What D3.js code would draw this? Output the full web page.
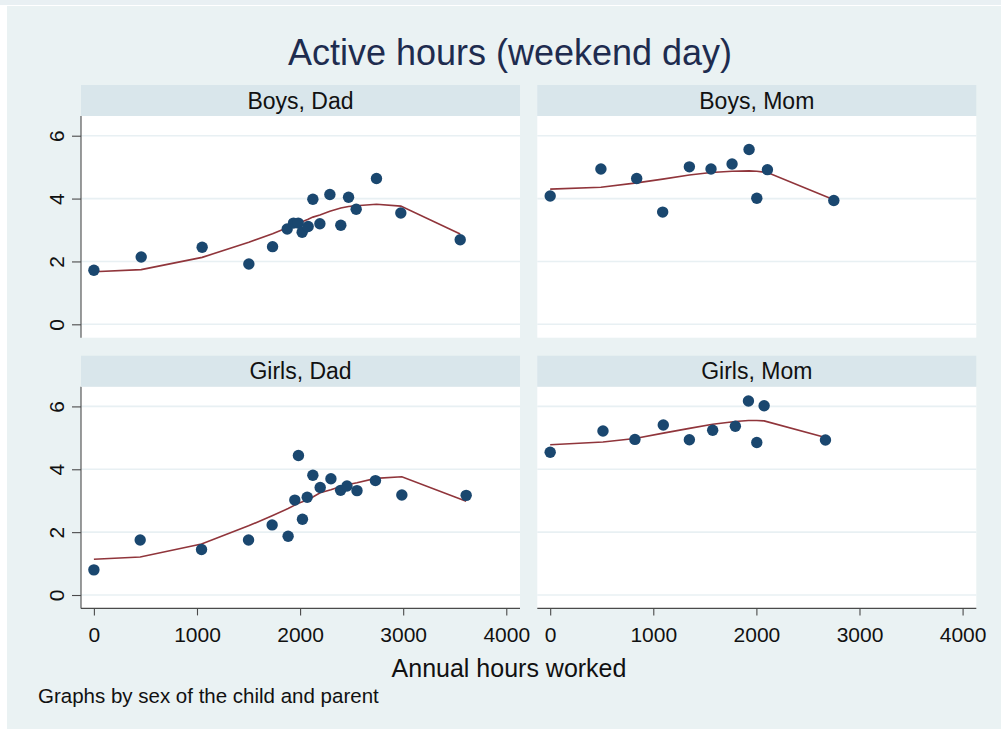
<!DOCTYPE html>
<html>
<head>
<meta charset="utf-8">
<script src="https://cdn.jsdelivr.net/npm/d3@7"></script>
<style>
  html, body { margin: 0; padding: 0; background: #ffffff; }
  svg { display: block; font-family: "Liberation Sans", Arial, sans-serif; }
</style>
</head>
<body>
<svg id="chart" width="1001" height="729"></svg>
<script>
// ---------------- data ----------------
const panelTitles = ["Boys, Dad", "Boys, Mom", "Girls, Dad", "Girls, Mom"];
const xTicks = [0, 1000, 2000, 3000, 4000];
const yTicks = [0, 2, 4, 6];
const chartTitle = "Active hours (weekend day)";
const xAxisTitle = "Annual hours worked";
const noteText = "Graphs by sex of the child and parent";

const boysDadHours  = [0, 459, 1050, 1503, 1733, 1875, 1936, 1982, 2020, 2078, 2124, 2192, 2289, 2395, 2470, 2544, 2741, 2977, 3553];
const boysDadActive = [1.72, 2.14, 2.45, 1.92, 2.47, 3.03, 3.22, 3.22, 2.93, 3.11, 3.98, 3.20, 4.13, 3.15, 4.04, 3.66, 4.64, 3.54, 2.69];
const boysDadFit    = [1.67, 1.74, 2.13, 2.61, 2.88, 3.07, 3.15, 3.22, 3.26, 3.34, 3.41, 3.48, 3.60, 3.70, 3.75, 3.77, 3.82, 3.76, 2.87];

const boysMomHours  = [0, 492, 839, 1091, 1350, 1560, 1764, 1929, 2004, 2107, 2751];
const boysMomActive = [4.08, 4.94, 4.64, 3.57, 5.01, 4.94, 5.10, 5.56, 4.01, 4.92, 3.94];
const boysMomFit    = [4.30, 4.36, 4.50, 4.62, 4.75, 4.83, 4.87, 4.88, 4.87, 4.83, 3.96];

const girlsDadHours  = [0, 449, 1044, 1500, 1729, 1884, 1949, 1984, 2023, 2069, 2124, 2195, 2299, 2393, 2455, 2552, 2731, 2987, 3611];
const girlsDadActive = [0.80, 1.75, 1.45, 1.75, 2.23, 1.87, 3.02, 4.44, 2.41, 3.11, 3.81, 3.42, 3.70, 3.33, 3.47, 3.32, 3.64, 3.18, 3.17];
const girlsDadFit    = [1.14, 1.21, 1.62, 2.20, 2.52, 2.75, 2.86, 2.92, 2.97, 3.04, 3.12, 3.25, 3.35, 3.45, 3.51, 3.57, 3.71, 3.76, 2.98];

const girlsMomHours  = [0, 512, 822, 1097, 1350, 1576, 1796, 1923, 2004, 2075, 2670];
const girlsMomActive = [4.54, 5.22, 4.95, 5.41, 4.94, 5.24, 5.37, 6.17, 4.85, 6.02, 4.93];
const girlsMomFit    = [4.78, 4.87, 4.98, 5.15, 5.30, 5.43, 5.52, 5.55, 5.55, 5.54, 5.01];

const panelData = [
  { title: panelTitles[0], hours: boysDadHours,  active: boysDadActive,  fit: boysDadFit,  col: 0, row: 0 },
  { title: panelTitles[1], hours: boysMomHours,  active: boysMomActive,  fit: boysMomFit,  col: 1, row: 0 },
  { title: panelTitles[2], hours: girlsDadHours, active: girlsDadActive, fit: girlsDadFit, col: 0, row: 1 },
  { title: panelTitles[3], hours: girlsMomHours, active: girlsMomActive, fit: girlsMomFit, col: 1, row: 1 }
];

// ---------------- layout ----------------
const BG = "#eaf2f3", STRIP = "#d9e6eb", GRID = "#e8f0f3";
const MARK = "#1a476f", FIT = "#90353b", AXIS = "#4a4a4a";
const colX = [81, 537.3];
const panelW = 439;
const stripTop = [85, 355.7];
const stripH = 31;
const plotH = 221.7;

const svg = d3.select("#chart");
svg.append("rect").attr("x", 0).attr("y", 0).attr("width", 1001).attr("height", 5).attr("fill", "#e9f0f3");
svg.append("rect").attr("x", 7).attr("y", 6).attr("width", 994).attr("height", 723).attr("fill", BG);

svg.append("text").attr("x", 510).attr("y", 65).attr("text-anchor", "middle")
  .attr("font-size", 36).attr("fill", "#1e2c4f").text(chartTitle);

const x = d3.scaleLinear().domain([-125, 4133]).range([0, panelW]);
const y = d3.scaleLinear().domain([-0.426, 6.627]).range([plotH, 0]);

panelData.forEach(p => {
  const gx = colX[p.col];
  const sy = stripTop[p.row];
  const py = sy + stripH;
  const g = svg.append("g").attr("transform", `translate(${gx},${py})`);

  // strip
  svg.append("rect").attr("x", gx).attr("y", sy).attr("width", panelW).attr("height", stripH).attr("fill", STRIP);
  svg.append("text").attr("x", gx + panelW / 2).attr("y", sy + 23.5).attr("text-anchor", "middle")
    .attr("font-size", 23).attr("fill", "#111").text(p.title);

  // plot area
  g.append("rect").attr("width", panelW).attr("height", plotH).attr("fill", "#ffffff");
  g.selectAll("line.grid").data(yTicks).enter().append("line")
    .attr("x1", 0).attr("x2", panelW).attr("y1", d => y(d)).attr("y2", d => y(d))
    .attr("stroke", GRID).attr("stroke-width", 1.6);

  // fit line
  const line = d3.line().x((d, i) => x(p.hours[i])).y(d => y(d));
  g.append("path").datum(p.fit).attr("d", line).attr("fill", "none")
    .attr("stroke", FIT).attr("stroke-width", 1.6);

  // points
  g.selectAll("circle").data(p.active).enter().append("circle")
    .attr("cx", (d, i) => x(p.hours[i])).attr("cy", d => y(d)).attr("r", 5.7).attr("fill", MARK);

  // y axis (left column)
  if (p.col === 0) {
    const ya = d3.axisLeft(y).tickValues(yTicks).tickSize(9).tickPadding(8).tickFormat(d3.format("d"));
    const yg = g.append("g").call(ya);
    yg.select(".domain").attr("d", `M0,0V${plotH}`).attr("stroke", AXIS).attr("stroke-width", 1.1);
    yg.selectAll(".tick line").attr("stroke", AXIS).attr("stroke-width", 1.1);
    yg.selectAll(".tick text").attr("font-size", 21).attr("fill", "#111")
      .attr("font-family", "Liberation Sans, Arial, sans-serif")
      .attr("transform", "rotate(-90)").attr("x", 0).attr("y", -17.5)
      .attr("dy", null).attr("text-anchor", "middle");
  }
  // x axis (bottom row)
  if (p.row === 1) {
    const xa = d3.axisBottom(x).tickValues(xTicks).tickSize(7).tickFormat(d3.format("d"));
    const xg = g.append("g").attr("transform", `translate(0,${plotH})`).call(xa);
    xg.select(".domain").attr("d", `M0,0H${panelW}`).attr("stroke", AXIS).attr("stroke-width", 1.1);
    xg.selectAll(".tick line").attr("stroke", AXIS).attr("stroke-width", 1.1);
    xg.selectAll(".tick text").attr("font-size", 21).attr("fill", "#111")
      .attr("font-family", "Liberation Sans, Arial, sans-serif")
      .attr("y", 33.4).attr("dy", null);
  }
});

svg.append("text").attr("x", 509).attr("y", 677).attr("text-anchor", "middle")
  .attr("font-size", 25).attr("fill", "#111").text(xAxisTitle);
svg.append("text").attr("x", 38).attr("y", 702.5).attr("text-anchor", "start")
  .attr("font-size", 20.5).attr("fill", "#111").text(noteText);
</script>
</body>
</html>
